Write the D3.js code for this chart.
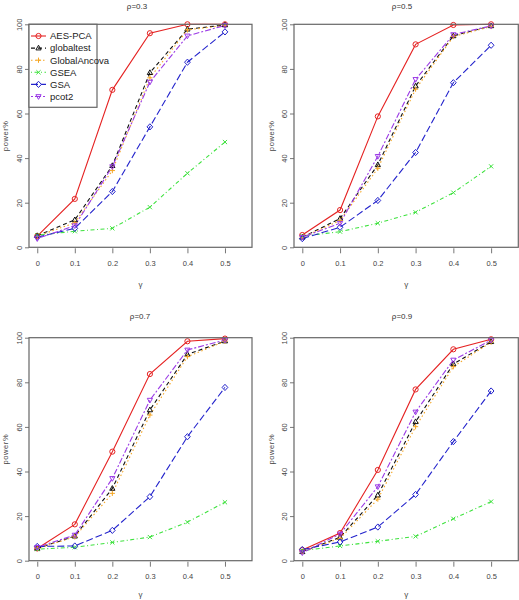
<!DOCTYPE html>
<html><head><meta charset="utf-8">
<script src="https://cdn.jsdelivr.net/npm/d3@7"></script>
<style>body{margin:0;background:#fff}svg{display:block}</style>
</head><body>
<svg id="c" width="519" height="600"></svg>
<script>
const gammas = [0, 0.1, 0.2, 0.3, 0.4, 0.5];
const methods = ["AES-PCA", "globaltest", "GlobalAncova", "GSEA", "GSA", "pcot2"];
const panelTitles = ["\u03c1=0.3", "\u03c1=0.5", "\u03c1=0.7", "\u03c1=0.9"];
const xTicks = [0, 0.1, 0.2, 0.3, 0.4, 0.5];
const yTicks = [0, 20, 40, 60, 80, 100];
// power% per method (order as in methods), one array per panel
const rho03 = [
  [5, 21.7, 70.6, 96, 100, 100],
  [5.2, 12.3, 36.6, 78.3, 97.8, 99.7],
  [5, 11, 34.4, 76, 97.5, 99.5],
  [5.4, 7.2, 8.5, 18, 33.2, 47.2],
  [4.5, 8.5, 25, 54, 83, 96.6],
  [3.9, 9.7, 36.2, 74.1, 94.8, 99.5]
];
const rho05 = [
  [5.5, 16.7, 58.7, 91, 99.7, 100],
  [4.5, 12.9, 37, 72.3, 94.8, 99.3],
  [4.5, 12, 35.4, 70.9, 94.5, 99],
  [5, 7, 10.8, 15.7, 24.5, 36.3],
  [3.9, 9, 21, 42.5, 73.8, 90.6],
  [4.5, 10.8, 40.8, 75.3, 95.4, 99.3]
];
const rho07 = [
  [5.5, 16.3, 48.9, 83.7, 98.4, 99.6],
  [5.5, 11, 32.4, 67.6, 92.5, 98.5],
  [5.5, 10.7, 30.2, 65.3, 91.5, 98.4],
  [5.2, 6, 8.2, 10.6, 17.3, 26.2],
  [6.4, 6.6, 13.6, 28.7, 55.6, 77.7],
  [6, 11.5, 36.9, 72, 94.5, 99]
];
const rho09 = [
  [4.8, 12.4, 40.7, 76.8, 94.8, 99.3],
  [4, 10.5, 29.4, 62.3, 88.2, 98.2],
  [4, 10, 27.6, 60.1, 87, 98],
  [4.5, 6.6, 8.7, 10.9, 18.8, 26.5],
  [5, 8.4, 15.1, 29.7, 53.4, 76.1],
  [3.6, 12, 33.2, 66.7, 90, 98.9]
];
const panelData = [rho03, rho05, rho07, rho09];

const colors = ["#e52222", "#111111", "#f5a623", "#3ee23e", "#2323cc", "#9b3ae6"];
const dashes = [null, "4,3", "1.5,2.5", "1,2.5,4,2.5", "7,3", "2,2,6,2"];
const FONT = "'Liberation Sans Narrow', 'Liberation Sans', Arial, sans-serif";

const svg = d3.select("#c");
const boxes = [
  {x0: 29, x1: 252, y0: 24.3, y1: 247.3, tx: 137, ty: 8.5, lx: 5, ylab: 20, gy: 287},
  {x0: 294, x1: 518.3, y0: 24.3, y1: 247.3, tx: 402, ty: 8.5, lx: 271, ylab: 285, gy: 287},
  {x0: 29, x1: 252, y0: 337.7, y1: 560.7, tx: 140, ty: 319, lx: 5, ylab: 20, gy: 596.5},
  {x0: 294, x1: 518.3, y0: 337.7, y1: 560.7, tx: 402, ty: 319, lx: 271, ylab: 285, gy: 596.5}
];

function marker(g, i, x, y, c) {
  const r = 2.6;
  if (i === 0) g.append("circle").attr("cx", x).attr("cy", y).attr("r", r).attr("fill", "none").attr("stroke", c);
  else if (i === 1) g.append("path").attr("d", `M${x},${y - r * 1.1}L${x + r},${y + r * 0.7}L${x - r},${y + r * 0.7}Z`).attr("fill", "none").attr("stroke", c);
  else if (i === 2) g.append("path").attr("d", `M${x - r},${y}H${x + r}M${x},${y - r}V${y + r}`).attr("stroke", c);
  else if (i === 3) g.append("path").attr("d", `M${x - r * 0.8},${y - r * 0.8}L${x + r * 0.8},${y + r * 0.8}M${x - r * 0.8},${y + r * 0.8}L${x + r * 0.8},${y - r * 0.8}`).attr("stroke", c);
  else if (i === 4) g.append("path").attr("d", `M${x},${y - r * 1.2}L${x + r * 1.1},${y}L${x},${y + r * 1.2}L${x - r * 1.1},${y}Z`).attr("fill", "none").attr("stroke", c);
  else g.append("path").attr("d", `M${x},${y + r * 1.1}L${x + r},${y - r * 0.7}L${x - r},${y - r * 0.7}Z`).attr("fill", "none").attr("stroke", c);
}

panelData.forEach((data, p) => {
  const b = boxes[p];
  const x = d3.scaleLinear().domain([-0.022, 0.572]).range([b.x0, b.x1]);
  const y = d3.scaleLinear().domain([0, 100]).range([b.y1, b.y0]);
  const g = svg.append("g");

  // x axis
  const xa = g.append("g").attr("transform", `translate(0,${b.y1 + 1})`)
    .call(d3.axisBottom(x).tickValues(xTicks).tickSize(5).tickPadding(7).tickFormat(d => d === 0 ? "0" : d3.format(".1f")(d)));
  xa.select(".domain").remove();
  xa.selectAll("line").attr("stroke", "#777");
  xa.selectAll("text").attr("font-family", FONT).attr("font-size", 7.5).attr("fill", "#444");

  // y axis
  const ya = g.append("g").attr("transform", `translate(${b.x0},0)`)
    .call(d3.axisLeft(y).tickValues(yTicks).tickSize(4).tickPadding(0).tickFormat(d3.format("d")));
  ya.select(".domain").remove();
  ya.selectAll("line").attr("stroke", "#777");
  ya.selectAll("text").remove();
  ya.selectAll(".tick").append("text")
    .attr("transform", `translate(${b.ylab - b.x0 + 2},0) rotate(-90)`)
    .attr("text-anchor", "middle").attr("font-family", FONT).attr("font-size", 7.5).attr("fill", "#444")
    .text(d => d);

  // titles
  g.append("text").attr("x", b.tx).attr("y", b.ty).attr("text-anchor", "middle")
    .attr("font-family", FONT).attr("font-size", 8).attr("fill", "#333").text(panelTitles[p]);
  g.append("text").attr("x", (b.x0 + b.x1) / 2).attr("y", b.gy).attr("text-anchor", "middle")
    .attr("font-family", FONT).attr("font-size", 8).attr("fill", "#444").text("\u03b3");
  g.append("text").attr("transform", `translate(${b.lx + 3},${(b.y0 + b.y1) / 2}) rotate(-90)`)
    .attr("text-anchor", "middle").attr("font-family", FONT).attr("font-size", 7.5).attr("fill", "#444")
    .attr("letter-spacing", 0.6).text("power%");

  // series
  const line = d3.line().x((d, i) => x(gammas[i])).y(d => y(d));
  data.forEach((vals, m) => {
    g.append("path").attr("d", line(vals)).attr("fill", "none").attr("stroke", colors[m])
      .attr("stroke-width", 1.1).attr("stroke-dasharray", dashes[m]);
  });
  data.forEach((vals, m) => {
    vals.forEach((v, i) => marker(g, m, x(gammas[i]), y(v), colors[m]));
  });

  // box
  g.append("rect").attr("x", b.x0).attr("y", b.y0).attr("width", b.x1 - b.x0).attr("height", b.y1 - b.y0)
    .attr("fill", "none").attr("stroke", "#666").attr("stroke-width", 1.2);

  // legend in first panel
  if (p === 0) {
    const lg = g.append("g");
    lg.append("rect").attr("x", b.x0).attr("y", b.y0).attr("width", 68).attr("height", 83)
      .attr("fill", "#fff").attr("stroke", "#666").attr("stroke-width", 1.2);
    methods.forEach((name, m) => {
      const yy = 36 + m * 12.1;
      lg.append("line").attr("x1", 31).attr("x2", 46).attr("y1", yy).attr("y2", yy)
        .attr("stroke", colors[m]).attr("stroke-width", 1.1).attr("stroke-dasharray", dashes[m]);
      marker(lg, m, 38.5, yy, colors[m]);
      lg.append("text").attr("x", 50).attr("y", yy + 3.3).attr("font-family", FONT)
        .attr("font-size", 9.5).attr("fill", "#222").text(name);
    });
  }
});
</script>
</body></html>
